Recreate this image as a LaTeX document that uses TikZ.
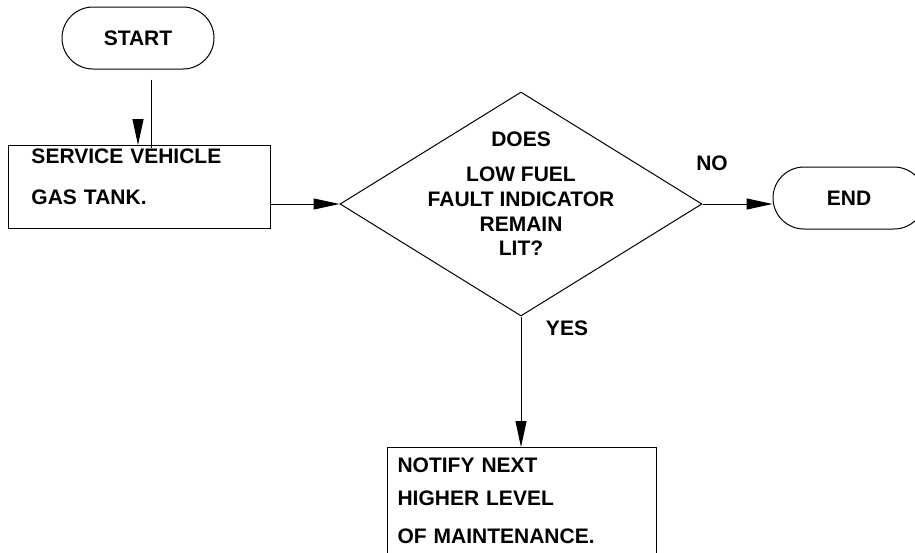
\documentclass[tikz,border=0pt]{standalone}
\usepackage{fontspec}
\setmainfont{Liberation Sans}
\usetikzlibrary{shapes.geometric,shapes.misc,arrows.meta}

\begin{document}
\begin{tikzpicture}[x=0.5pt,y=-0.5pt,line width=0.5pt,
        every node/.style={font=\bfseries\fontsize{10.5}{12.4}\selectfont},
        terminal/.style={draw,rounded rectangle,minimum width=76pt,minimum height=31pt,inner sep=0pt},
        process/.style={draw,rectangle,anchor=north west,align=left,inner xsep=#1},
        decision/.style={draw,diamond,minimum width=181pt,minimum height=112pt,inner sep=0pt},
        flow/.style={-{Triangle[length=13pt,width=5.5pt]}}]
    \clip (0,0) rectangle (915,552);
    % blocks
    \node[terminal] (start) at (138,38) {START};
    \node[process=11.5pt,text width=108pt,inner ysep=1.5pt,text depth=31pt,
          font=\bfseries\fontsize{10.5}{20.5}\selectfont] (service) at (8,145)
          {SERVICE VEHICLE\\GAS TANK.};
    \node[decision] (check) at (521,204) {};
    \node[align=center,anchor=north,inner sep=0pt] (question) at (521,131.5)
          {DOES\\[5pt]LOW FUEL\\FAULT INDICATOR\\REMAIN\\LIT?};
    \node[terminal] (finish) at (849,198) {END};
    \node[process=5pt,text width=124.5pt,inner ysep=5pt,text depth=47.5pt,
          font=\bfseries\fontsize{10.5}{16.5}\selectfont] (notify) at (387,447)
          {NOTIFY NEXT\\HIGHER LEVEL\\[2.5pt]OF MAINTENANCE.};
    \node (no) at (712,163) {NO};
    \node (yes) at (567,328) {YES};
    % connectors
    \coordinate (feed) at ([xshift=6.5pt,yshift=-5pt]start.south);
    \coordinate (tip) at (start.south |- service.north);
    \draw[shorten >=-1.5pt] (feed) -- (feed |- service.north);
    \draw[flow] ([yshift=13pt]tip) -- (tip);
    \draw[flow] (service.east |- check.west) -- (check.west);
    \draw[flow] (check.east) -- (check.east -| finish.west);
    \draw[flow] (check.south) -- (check.south |- notify.north);
\end{tikzpicture}
\end{document}
